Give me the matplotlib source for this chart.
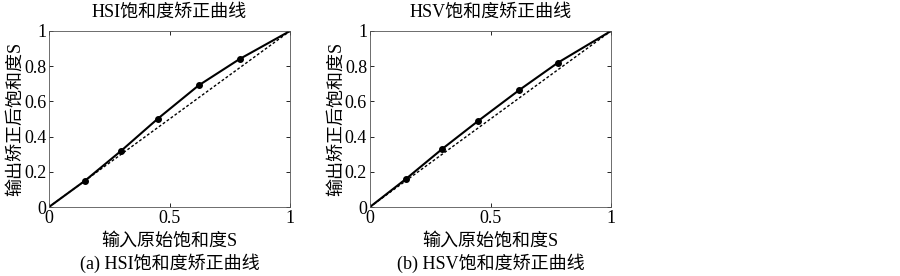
import matplotlib
matplotlib.use("Agg")
import matplotlib.pyplot as plt

plt.rcParams["font.family"] = ["Liberation Serif", "Noto Sans CJK SC"]
plt.rcParams["axes.unicode_minus"] = False

# Data
hsi_x = [0, 0.15, 0.30, 0.45, 0.62, 0.79, 1.0]
hsi_y = [0, 0.15, 0.32, 0.50, 0.69, 0.84, 1.0]
hsv_x = [0, 0.15, 0.30, 0.45, 0.62, 0.78, 1.0]
hsv_y = [0, 0.16, 0.33, 0.49, 0.665, 0.82, 1.0]
diag = [0, 1]

titles = ["HSI饱和度矫正曲线", "HSV饱和度矫正曲线"]
captions = ["(a) HSI饱和度矫正曲线", "(b) HSV饱和度矫正曲线"]
xlabel = "输入原始饱和度S"
ylabel = "输出矫正后饱和度S"
xticks = [0, 0.5, 1]
xtick_labels = ["0", "0.5", "1"]
yticks = [0, 0.2, 0.4, 0.6, 0.8, 1]
ytick_labels = ["0", "0.2", "0.4", "0.6", "0.8", "1"]

fig = plt.figure(figsize=(9, 2.76), dpi=100)
lefts = [0.0544, 0.411]
series = [(hsi_x, hsi_y), (hsv_x, hsv_y)]

for i, (xs, ys) in enumerate(series):
    ax = fig.add_axes([lefts[i], 0.25, 0.268, 0.638])
    ax.plot(diag, diag, color="black", linestyle=(0, (2, 1.5)), linewidth=1.0)
    ax.plot(xs, ys, color="black", linewidth=1.5)
    ax.plot(xs[1:-1], ys[1:-1], "o", color="black", markersize=4)
    ax.set_xlim(0, 1)
    ax.set_ylim(0, 1)
    ax.set_xticks(xticks)
    ax.set_xticklabels(xtick_labels)
    ax.set_yticks(yticks)
    ax.set_yticklabels(ytick_labels)
    ax.tick_params(direction="in", labelsize=13, length=3, top=True, right=True,
                   pad=2, width=0.6)
    for sp in ax.spines.values():
        sp.set_linewidth(0.6)
        sp.set_color("#555555")
    ax.set_title(titles[i], fontsize=13, pad=10)
    ax.set_xlabel(xlabel, fontsize=13, labelpad=4)
    ax.set_ylabel(ylabel, fontsize=13, labelpad=0)
    ax.text(0.5, -0.32, captions[i], transform=ax.transAxes, ha="center",
            va="center", fontsize=13)

fig.savefig("out.png", dpi=100, facecolor="white")
